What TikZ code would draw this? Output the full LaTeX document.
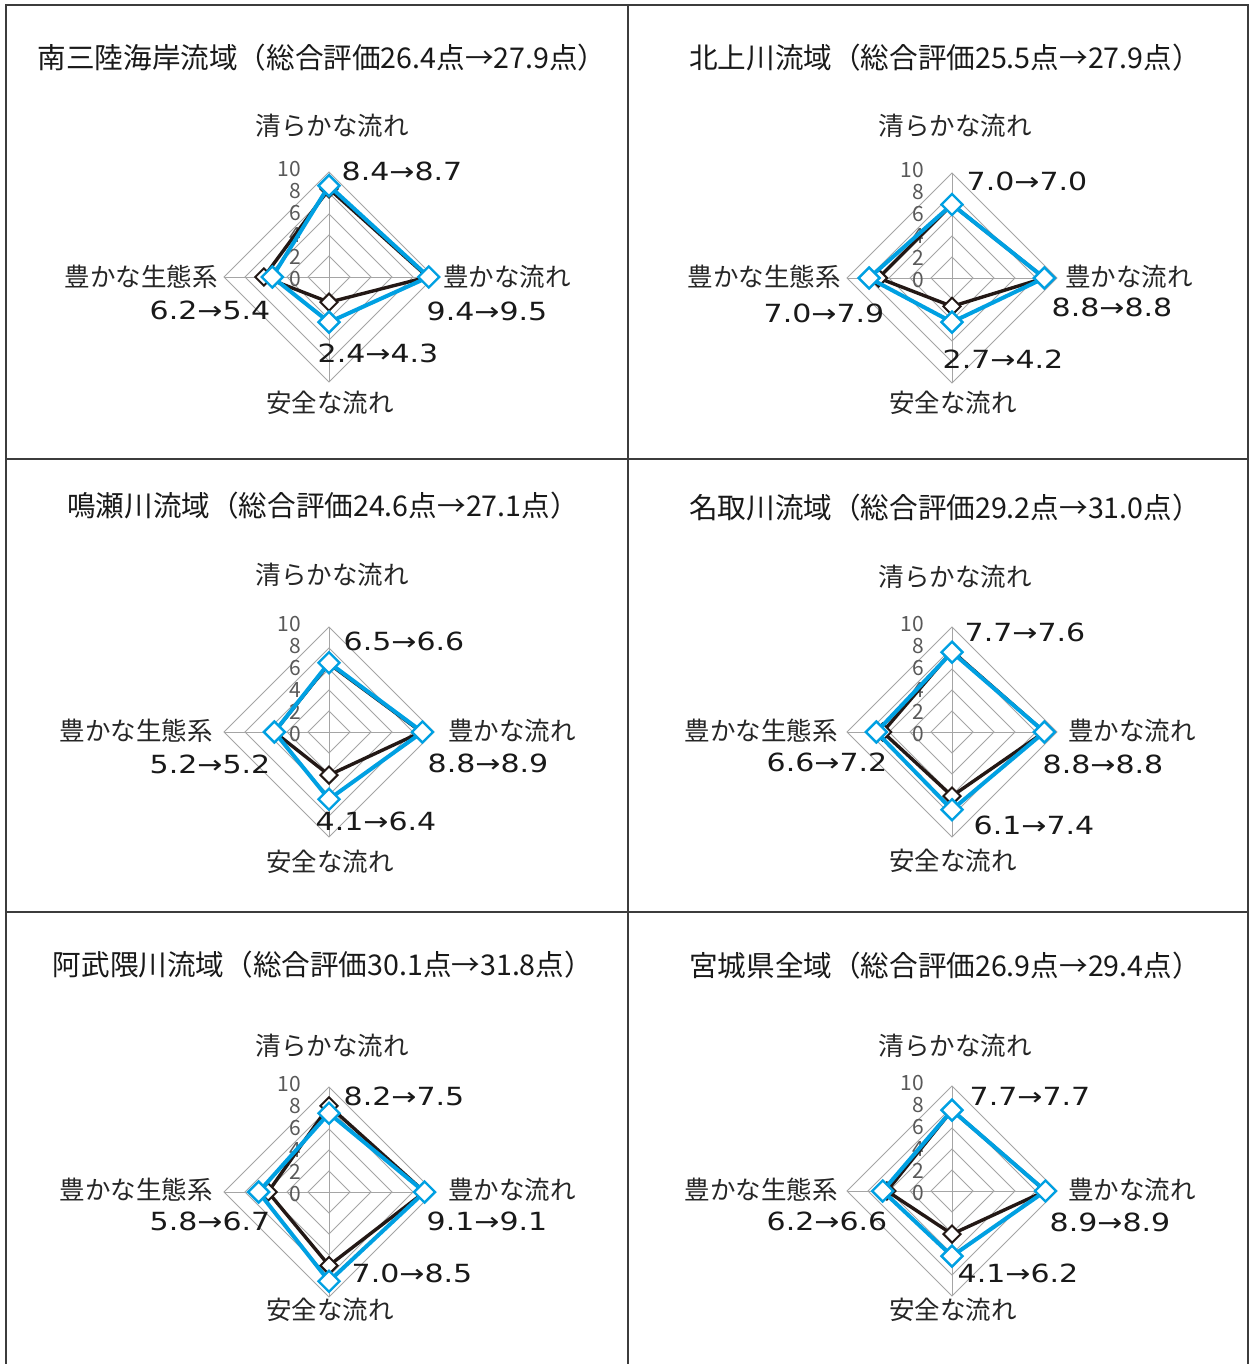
\documentclass[tikz,border=0pt]{standalone}
\usepackage{fontspec}
\setmainfont{Noto Sans CJK JP}
\newfontfamily\numfont[FakeStretch=1.2]{DejaVu Sans}
\usetikzlibrary{shapes.geometric}
\definecolor{cblue}{RGB}{0,160,226}
\definecolor{cblack}{RGB}{35,24,21}
\definecolor{cgrid}{RGB}{165,165,165}
\definecolor{ctable}{RGB}{60,60,60}
\tikzset{
  ttl/.style={font=\fontsize{28.6}{30}\selectfont, text=black!90, inner sep=0},
  axlab/.style={font=\fontsize{25.5}{28}\selectfont, text=black!85, inner sep=0},
  vallab/.style={font=\numfont\fontsize{25}{28}\selectfont, text=black!90, inner sep=0},
  scalelab/.style={font=\fontsize{21}{22}\selectfont, text=black!65, anchor=east, inner sep=0},
  gridline/.style={draw=cgrid, line width=1},
  beforeline/.style={draw=cblack, line width=3.4, line join=miter},
  afterline/.style={draw=cblue, line width=4, line join=miter},
  bmark/.style={diamond, draw=cblack, fill=white, line width=2, minimum size=18, inner sep=0},
  amark/.style={diamond, draw=cblue, fill=white, line width=2.4, minimum size=22, inner sep=0},
  tbl/.style={draw=ctable, line width=1.6}
}
% #1 name prefix; #2-#5 before (top,right,bottom,left); #6-#9 after
\newcommand\myradar[9]{%
  \foreach \r in {2,4,6,8,10}
    \draw[gridline] (0,{-10.5*\r}) -- ({10.5*\r},0) -- (0,{10.5*\r}) -- ({-10.5*\r},0) -- cycle;
  \draw[gridline] (0,-105) -- (0,105);
  \draw[gridline] (-105,0) -- (105,0);
  \foreach \v in {0,2,4,6,8,10}
    \node[scalelab] (#1s\v) at (-28,{-11*\v+2}) {\v};
  \coordinate (#1b1) at (0,{-10.5*#2});
  \coordinate (#1b2) at ({10.5*#3},0);
  \coordinate (#1b3) at (0,{10.5*#4});
  \coordinate (#1b4) at ({-10.5*#5},0);
  \coordinate (#1a1) at (0,{-10.5*#6});
  \coordinate (#1a2) at ({10.5*#7},0);
  \coordinate (#1a3) at (0,{10.5*#8});
  \coordinate (#1a4) at ({-10.5*#9},0);
  \draw[beforeline] (#1b1) -- (#1b2) -- (#1b3) -- (#1b4) -- cycle;
  \foreach \k in {1,2,3,4} \node[bmark] (#1bm\k) at (#1b\k) {};
  \draw[afterline] (#1a1) -- (#1a2) -- (#1a3) -- (#1a4) -- cycle;
  \foreach \k in {1,2,3,4} \node[amark] (#1am\k) at (#1a\k) {};
}
\begin{document}
\begin{tikzpicture}[x=1pt,y=-1pt]
\useasboundingbox (0,0) rectangle (1250,1364);
\fill[white] (0,0) rectangle (1250,1364);
% table frame
\draw[tbl] (6,1364) -- (6,5) -- (1248,5) -- (1248,1364);
\draw[tbl] (628,5) -- (628,1364);
\draw[tbl] (6,459) -- (1248,459);
\draw[tbl] (6,912) -- (1248,912);

% ---- Panel 1
\begin{scope}[shift={(329,277)}]
\myradar{pa}{8.4}{9.4}{2.4}{6.2}{8.7}{9.5}{4.3}{5.4}
\end{scope}
\node[ttl] (pat) at (322,58) {南三陸海岸流域（総合評価26.4点→27.9点）};
\node[axlab] (pa1) at (332,126) {清らかな流れ};
\node[axlab] (pa2) at (507,277) {豊かな流れ};
\node[axlab] (pa3) at (330,403) {安全な流れ};
\node[axlab] (pa4) at (141,277) {豊かな生態系};
\node[vallab] (pav1) at (402,171) {8.4→8.7};
\node[vallab] (pav2) at (487,311) {9.4→9.5};
\node[vallab] (pav3) at (378,353) {2.4→4.3};
\node[vallab] (pav4) at (210,310) {6.2→5.4};

% ---- Panel 2
\begin{scope}[shift={(952,278)}]
\myradar{pb}{7.0}{8.8}{2.7}{7.0}{7.0}{8.8}{4.2}{7.9}
\end{scope}
\node[ttl] (pbt) at (945,58) {北上川流域（総合評価25.5点→27.9点）};
\node[axlab] (pb1) at (955,126) {清らかな流れ};
\node[axlab] (pb2) at (1129,277) {豊かな流れ};
\node[axlab] (pb3) at (953,403) {安全な流れ};
\node[axlab] (pb4) at (764,277) {豊かな生態系};
\node[vallab] (pbv1) at (1027,181) {7.0→7.0};
\node[vallab] (pbv2) at (1112,307) {8.8→8.8};
\node[vallab] (pbv3) at (1003,359) {2.7→4.2};
\node[vallab] (pbv4) at (824,313) {7.0→7.9};

% ---- Panel 3
\begin{scope}[shift={(329,732)}]
\myradar{pc}{6.5}{8.8}{4.1}{5.2}{6.6}{8.9}{6.4}{5.2}
\end{scope}
\node[ttl] (pct) at (323,506) {鳴瀬川流域（総合評価24.6点→27.1点）};
\node[axlab] (pc1) at (332,575) {清らかな流れ};
\node[axlab] (pc2) at (512,731) {豊かな流れ};
\node[axlab] (pc3) at (330,862) {安全な流れ};
\node[axlab] (pc4) at (136,731) {豊かな生態系};
\node[vallab] (pcv1) at (404,641) {6.5→6.6};
\node[vallab] (pcv2) at (488,763) {8.8→8.9};
\node[vallab] (pcv3) at (376,821) {4.1→6.4};
\node[vallab] (pcv4) at (210,764) {5.2→5.2};

% ---- Panel 4
\begin{scope}[shift={(952,732)}]
\myradar{pd}{7.7}{8.8}{6.1}{6.6}{7.6}{8.8}{7.4}{7.2}
\end{scope}
\node[ttl] (pdt) at (945,508) {名取川流域（総合評価29.2点→31.0点）};
\node[axlab] (pd1) at (955,577) {清らかな流れ};
\node[axlab] (pd2) at (1132,731) {豊かな流れ};
\node[axlab] (pd3) at (953,861) {安全な流れ};
\node[axlab] (pd4) at (761,731) {豊かな生態系};
\node[vallab] (pdv1) at (1025,632) {7.7→7.6};
\node[vallab] (pdv2) at (1103,764) {8.8→8.8};
\node[vallab] (pdv3) at (1034,825) {6.1→7.4};
\node[vallab] (pdv4) at (827,762) {6.6→7.2};

% ---- Panel 5
\begin{scope}[shift={(329,1192)}]
\myradar{pe}{8.2}{9.1}{7.0}{5.8}{7.5}{9.1}{8.5}{6.7}
\end{scope}
\node[ttl] (pet) at (323,965) {阿武隈川流域（総合評価30.1点→31.8点）};
\node[axlab] (pe1) at (332,1046) {清らかな流れ};
\node[axlab] (pe2) at (512,1190) {豊かな流れ};
\node[axlab] (pe3) at (330,1310) {安全な流れ};
\node[axlab] (pe4) at (136,1190) {豊かな生態系};
\node[vallab] (pev1) at (404,1096) {8.2→7.5};
\node[vallab] (pev2) at (487,1221) {9.1→9.1};
\node[vallab] (pev3) at (412,1273) {7.0→8.5};
\node[vallab] (pev4) at (210,1221) {5.8→6.7};

% ---- Panel 6
\begin{scope}[shift={(952,1191)}]
\myradar{pf}{7.7}{8.9}{4.1}{6.2}{7.7}{8.9}{6.2}{6.6}
\end{scope}
\node[ttl] (pft) at (945,966) {宮城県全域（総合評価26.9点→29.4点）};
\node[axlab] (pf1) at (955,1046) {清らかな流れ};
\node[axlab] (pf2) at (1132,1190) {豊かな流れ};
\node[axlab] (pf3) at (953,1310) {安全な流れ};
\node[axlab] (pf4) at (761,1190) {豊かな生態系};
\node[vallab] (pfv1) at (1030,1096) {7.7→7.7};
\node[vallab] (pfv2) at (1110,1222) {8.9→8.9};
\node[vallab] (pfv3) at (1018,1273) {4.1→6.2};
\node[vallab] (pfv4) at (827,1221) {6.2→6.6};
\end{tikzpicture}
\end{document}
